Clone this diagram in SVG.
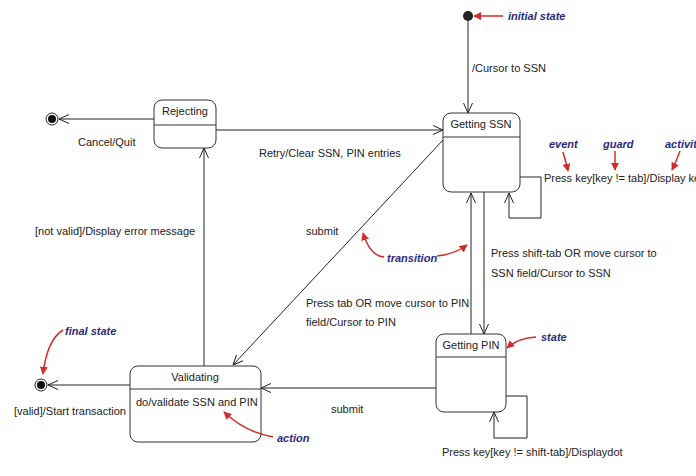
<svg xmlns="http://www.w3.org/2000/svg" width="696" height="476" viewBox="0 0 696 476">
<style>
.st{fill:#fff;stroke:#333;stroke-width:1}
.dv{stroke:#333;stroke-width:1}
.t{font-family:"Liberation Sans",Arial,sans-serif;font-size:11px;fill:#222}
.n{font-family:"Liberation Sans",Arial,sans-serif;font-size:11px;fill:#222;text-anchor:middle}
.c{fill:none;stroke:#222;stroke-width:1}
.a{font-family:"Liberation Sans",Arial,sans-serif;font-size:11px;font-weight:bold;font-style:italic;fill:#2a2a7e}
.r{fill:none;stroke:#d42a2a;stroke-width:1.5}
</style>
<defs>
<marker id="open" viewBox="0 0 10 10" refX="10" refY="5" markerWidth="10" markerHeight="10" markerUnits="userSpaceOnUse" orient="auto">
<path d="M0,0.5 L10,5 L0,9.5" fill="none" stroke="#222" stroke-width="1"/>
</marker>
<marker id="red" viewBox="0 0 10 10" refX="9" refY="5" markerWidth="8" markerHeight="8" markerUnits="userSpaceOnUse" orient="auto">
<path d="M0,0 L10,5 L0,10 Z" fill="#d42a2a"/>
</marker>
</defs>
<rect width="696" height="476" fill="#fff"/>

<g id="connectors">
<path class="c" d="M468,21 V113" marker-end="url(#open)"/>
<path class="c" d="M154,119 H59" marker-end="url(#open)"/>
<path class="c" d="M216,130 H443" marker-end="url(#open)"/>
<path class="c" d="M204,366 V148" marker-end="url(#open)"/>
<path class="c" d="M443,140 L233,365" marker-end="url(#open)"/>
<path class="c" d="M130,385 H48" marker-end="url(#open)"/>
<path class="c" d="M471,334 V193" marker-end="url(#open)"/>
<path class="c" d="M484,192 V334" marker-end="url(#open)"/>
<path class="c" d="M520,177 H541 V218 H509 V193" marker-end="url(#open)"/>
<path class="c" d="M506,396 H527 V438 H494 V412" marker-end="url(#open)"/>
<path class="c" d="M436,388 H261" marker-end="url(#open)"/>
</g>

<g id="labels">
<text class="t" x="472" y="72">/Cursor to SSN</text>
<text class="t" x="78" y="146">Cancel/Quit</text>
<text class="t" x="259" y="157">Retry/Clear SSN, PIN entries</text>
<text class="t" x="35" y="235">[not valid]/Display error message</text>
<text class="t" x="306" y="235">submit</text>
<text class="t" x="544" y="182">Press key[key != tab]/Display key</text>
<text class="t" x="491" y="257">Press shift-tab OR move cursor to</text>
<text class="t" x="491" y="277">SSN field/Cursor to SSN</text>
<text class="t" x="306" y="307">Press tab OR move cursor to PIN</text>
<text class="t" x="306" y="326">field/Cursor to PIN</text>
<text class="t" x="14" y="415">[valid]/Start transaction</text>
<text class="t" x="331" y="413">submit</text>
<text class="t" x="442" y="456">Press key[key != shift-tab]/Displaydot</text>
</g>

<g id="initial">
<circle cx="468" cy="16" r="5" fill="#222"/>
</g>
<g id="final1">
<circle cx="52" cy="119" r="6" fill="#fff" stroke="#222" stroke-width="1"/>
<circle cx="52" cy="119" r="4" fill="#111"/>
</g>
<g id="final2">
<circle cx="41" cy="385" r="6" fill="#fff" stroke="#222" stroke-width="1"/>
<circle cx="41" cy="385" r="4" fill="#111"/>
</g>

<g id="rejecting">
<rect class="st" x="154" y="100" width="62" height="48" rx="8"/>
<line class="dv" x1="154" y1="125" x2="216" y2="125"/>
<text class="n" x="185" y="115">Rejecting</text>
</g>
<g id="getting-ssn">
<rect class="st" x="443" y="113" width="77" height="79" rx="8"/>
<line class="dv" x1="443" y1="137" x2="520" y2="137"/>
<text class="n" x="481" y="128">Getting SSN</text>
</g>
<g id="getting-pin">
<rect class="st" x="436" y="334" width="70" height="78" rx="8"/>
<line class="dv" x1="436" y1="357" x2="506" y2="357"/>
<text class="n" x="471" y="349">Getting PIN</text>
</g>
<g id="validating">
<rect class="st" x="130" y="366" width="131" height="76" rx="8"/>
<line class="dv" x1="130" y1="389" x2="261" y2="389"/>
<text class="n" x="195" y="381">Validating</text>
<text class="t" x="136" y="406">do/validate SSN and PIN</text>
</g>

<g id="annotations">
<text class="a" x="508" y="20">initial state</text>
<path class="r" d="M503,16 H474" marker-end="url(#red)"/>
<text class="a" x="549" y="148">event</text>
<path class="r" d="M563,152 Q566,162 568,171" marker-end="url(#red)"/>
<text class="a" x="603" y="148">guard</text>
<path class="r" d="M615,151 V170" marker-end="url(#red)"/>
<text class="a" x="665" y="148">activity</text>
<path class="r" d="M680,151 Q676,162 672,170" marker-end="url(#red)"/>
<text class="a" x="387" y="262">transition</text>
<path class="r" d="M384,257 Q370,256 363,233" marker-end="url(#red)"/>
<path class="r" d="M437,256 Q455,254 467,245" marker-end="url(#red)"/>
<text class="a" x="541" y="341">state</text>
<path class="r" d="M536,337 Q518,338 507,348" marker-end="url(#red)"/>
<text class="a" x="65" y="335">final state</text>
<path class="r" d="M63,330 Q47,340 43,374" marker-end="url(#red)"/>
<text class="a" x="277" y="442">action</text>
<path class="r" d="M273,437 Q245,432 224,412" marker-end="url(#red)"/>
</g>
</svg>
